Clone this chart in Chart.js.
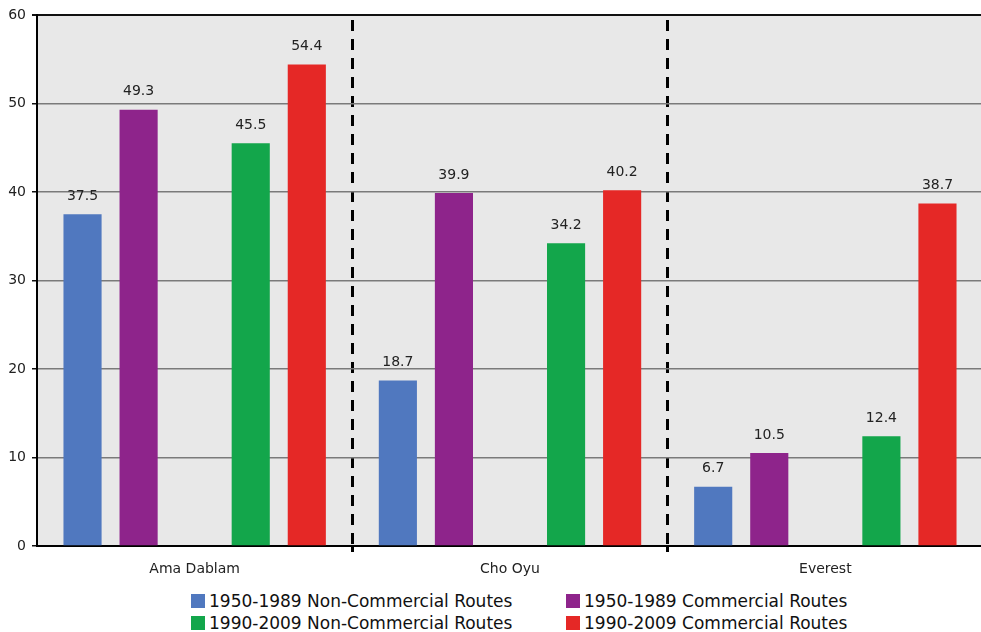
<!DOCTYPE html>
<html>
<head>
<meta charset="utf-8">
<script src="https://cdn.jsdelivr.net/npm/chart.js@4.4.1/dist/chart.umd.min.js"></script>
<style>
  html, body { margin: 0; padding: 0; background: #fff; overflow: hidden; }
  #wrap { position: relative; width: 981px; height: 632px; overflow: hidden; }
  #summitChart { position: absolute; left: 0; top: 0; }
  .legend { position: absolute; font-family: "DejaVu Sans", Verdana, sans-serif; font-size: 17px; color: #111; white-space: nowrap; line-height: 22px; }
  .legend span.box { display: inline-block; width: 14px; height: 14px; margin-right: 4px; vertical-align: -1px; }
</style>
</head>
<body>
<div id="wrap">
  <!-- the plot runs a little past the right edge of the page -->
  <canvas id="summitChart" width="985" height="585"></canvas>
  <div id="legend"></div>
</div>
<script>
// Peaks and routes
var peaks = ['Ama Dablam', 'Cho Oyu', 'Everest'];
var seriesNames = [
    '1950-1989 Non-Commercial Routes',
    '1950-1989 Commercial Routes',
    '1990-2009 Non-Commercial Routes',
    '1990-2009 Commercial Routes'
];
var nonComm5089 = [37.5, 18.7, 6.7];
var comm5089 = [49.3, 39.9, 10.5];
var nonComm9009 = [45.5, 34.2, 12.4];
var comm9009 = [54.4, 40.2, 38.7];
var yTicks = [0, 10, 20, 30, 40, 50, 60];

var colors = ['#5078bf', '#8e248b', '#13a64b', '#e52826'];
var font = '"DejaVu Sans", Verdana, sans-serif';

// an empty slot sits between the two eras in every group
var datasets = [
    { label: seriesNames[0], data: nonComm5089, backgroundColor: colors[0] },
    { label: seriesNames[1], data: comm5089, backgroundColor: colors[1] },
    { label: '', data: [null, null, null], backgroundColor: 'rgba(0,0,0,0)', spacer: true },
    { label: seriesNames[2], data: nonComm9009, backgroundColor: colors[2] },
    { label: seriesNames[3], data: comm9009, backgroundColor: colors[3] }
];

// grey plot background
var plotBackground = {
    id: 'plotBackground',
    beforeDraw: function (chart) {
        var a = chart.chartArea;
        chart.ctx.save();
        chart.ctx.fillStyle = '#e8e8e8';
        chart.ctx.fillRect(a.left, a.top, a.right - a.left, a.bottom - a.top);
        chart.ctx.restore();
    }
};

// value printed above every bar
var barValues = {
    id: 'barValues',
    afterDatasetsDraw: function (chart) {
        var ctx = chart.ctx;
        ctx.save();
        ctx.font = '14px ' + font;
        ctx.fillStyle = '#222';
        ctx.textAlign = 'center';
        ctx.textBaseline = 'bottom';
        chart.data.datasets.forEach(function (ds, i) {
            if (ds.spacer) return;
            chart.getDatasetMeta(i).data.forEach(function (bar, j) {
                ctx.fillText(ds.data[j].toFixed(1), bar.x, bar.y - 11);
            });
        });
        ctx.restore();
    }
};

// only the lines between the peaks are drawn
function isSeparator(c) {
    return c.type === 'tick' && (c.index === 1 || c.index === 2);
}

var ctx = document.getElementById('summitChart').getContext('2d');
var summitChart = new Chart(ctx, {
    type: 'bar',
    data: { labels: peaks, datasets: datasets },
    options: {
        responsive: false,
        animation: false,
        layout: { padding: { top: 15, right: 2, left: 0, bottom: 0 } },
        datasets: { bar: { categoryPercentage: 0.889, barPercentage: 0.68 } },
        plugins: { legend: { display: false }, tooltip: { enabled: false } },
        scales: {
            x: {
                grid: {
                    offset: true,
                    color: function (c) { return isSeparator(c) ? '#000' : 'rgba(0,0,0,0)'; },
                    lineWidth: function (c) { return isSeparator(c) ? 3 : 0; },
                    tickLength: 6
                },
                border: { display: true, color: '#000', width: 2, dash: [11, 8], dashOffset: 14 },
                ticks: { color: '#222', font: { family: font, size: 14 }, padding: 9 },
                afterFit: function (scale) { scale.height = 39; }
            },
            y: {
                min: 0,
                max: 60,
                afterBuildTicks: function (scale) {
                    scale.ticks = yTicks.map(function (v) { return { value: v }; });
                },
                grid: {
                    color: function (c) { return c.tick && c.tick.value === 60 ? '#111' : '#7a7a7a'; },
                    lineWidth: function (c) { return c.tick && c.tick.value === 60 ? 2 : 1.5; },
                    tickColor: '#111',
                    tickLength: 5
                },
                border: { color: '#000', width: 2 },
                ticks: { color: '#222', font: { family: font, size: 14 }, padding: 6 },
                afterFit: function (scale) { scale.width = 37; }
            }
        }
    },
    plugins: [plotBackground, barValues]
});

// two-column legend under the chart
var legendDiv = document.getElementById('legend');
var legendSpots = [[191, 590], [566, 590], [191, 612], [566, 612]];
var legendOrder = [0, 1, 2, 3];
legendOrder.forEach(function (k, n) {
    var item = document.createElement('div');
    item.className = 'legend';
    item.style.left = legendSpots[n][0] + 'px';
    item.style.top = legendSpots[n][1] + 'px';
    item.innerHTML = '<span class="box" style="background:' + colors[k] + '"></span>' + seriesNames[k];
    legendDiv.appendChild(item);
});
</script>
</body>
</html>
